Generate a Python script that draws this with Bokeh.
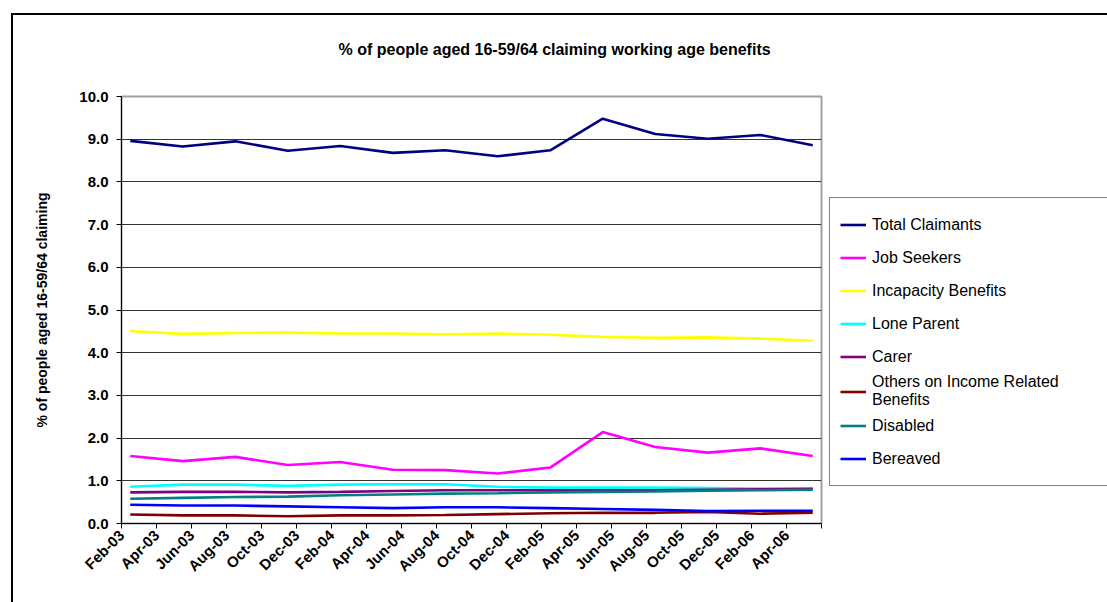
import math
from datetime import datetime
from bokeh.plotting import figure
from bokeh.models import (FixedTicker, PrintfTickFormatter, Legend, LegendItem,
                          Title, Range1d)
from bokeh.embed import file_html
from bokeh.resources import INLINE

# ---- data (quarterly observations) ----
dates = ["Feb-03", "May-03", "Aug-03", "Nov-03", "Feb-04", "May-04", "Aug-04",
         "Nov-04", "Feb-05", "May-05", "Aug-05", "Nov-05", "Feb-06", "May-06"]
tick_labels = ["Feb-03", "Apr-03", "Jun-03", "Aug-03", "Oct-03", "Dec-03",
               "Feb-04", "Apr-04", "Jun-04", "Aug-04", "Oct-04", "Dec-04",
               "Feb-05", "Apr-05", "Jun-05", "Aug-05", "Oct-05", "Dec-05",
               "Feb-06", "Apr-06"]
axis_end = "Jun-06"

total_claimants = [8.96, 8.83, 8.95, 8.73, 8.84, 8.68, 8.74, 8.60, 8.74, 9.48, 9.12, 9.01, 9.10, 8.86]
job_seekers = [1.58, 1.46, 1.56, 1.37, 1.44, 1.26, 1.25, 1.17, 1.31, 2.14, 1.79, 1.66, 1.76, 1.58]
incapacity = [4.51, 4.44, 4.46, 4.47, 4.45, 4.45, 4.43, 4.45, 4.42, 4.37, 4.35, 4.36, 4.33, 4.28]
lone_parent = [0.86, 0.91, 0.91, 0.88, 0.91, 0.92, 0.92, 0.86, 0.84, 0.84, 0.84, 0.83, 0.82, 0.81]
carer = [0.73, 0.74, 0.74, 0.73, 0.74, 0.76, 0.78, 0.78, 0.78, 0.78, 0.78, 0.79, 0.80, 0.81]
others = [0.21, 0.19, 0.19, 0.17, 0.19, 0.19, 0.20, 0.22, 0.24, 0.25, 0.25, 0.27, 0.23, 0.25]
disabled = [0.58, 0.60, 0.62, 0.63, 0.66, 0.68, 0.70, 0.71, 0.73, 0.74, 0.75, 0.77, 0.78, 0.79]
bereaved = [0.44, 0.42, 0.42, 0.40, 0.38, 0.36, 0.38, 0.38, 0.36, 0.34, 0.32, 0.29, 0.30, 0.30]

series_names = ["Total Claimants", "Job Seekers", "Incapacity Benefits", "Lone Parent",
                "Carer", "Others on Income Related\nBenefits", "Disabled", "Bereaved"]
series_values = [total_claimants, job_seekers, incapacity, lone_parent,
                 carer, others, disabled, bereaved]
series_colors = ["#000080", "#FF00FF", "#FFFF00", "#00FFFF",
                 "#800080", "#800000", "#008080", "#0000FF"]

chart_title = "% of people aged 16-59/64 claiming working age benefits"
y_label = "% of people aged 16-59/64 claiming"


def month_index(s):
    d = datetime.strptime(s, "%b-%y")
    return (d.year - 2003) * 12 + d.month - 2


xs = [month_index(d) + 0.5 for d in dates]
x_end = month_index(axis_end)

FONT = "Liberation Sans"

p = figure(frame_width=700, frame_height=427, output_backend="svg", toolbar_location=None,
           x_range=Range1d(0, x_end), y_range=Range1d(0, 10),
           min_border_left=108, min_border_right=286, min_border_top=81,
           min_border_bottom=79, background_fill_color="white",
           border_fill_color="white",
           styles={"margin-left": "11px", "margin-top": "13px",
                   "border-left": "2px solid black", "border-top": "2px solid black"})
p.outline_line_color = "#A0A0A0"
p.outline_line_width = 2

renderers = []
for vals, col in zip(series_values, series_colors):
    r = p.line(xs, vals, line_color=col, line_width=2.6)
    renderers.append(r)

# x axis
ticks = [month_index(t) for t in tick_labels] + [x_end]
overrides = {month_index(t): t for t in tick_labels}
overrides[x_end] = ""
p.xaxis.ticker = FixedTicker(ticks=ticks)
p.xaxis.major_label_overrides = overrides
p.xaxis.major_label_orientation = math.pi / 4
p.xaxis.major_label_text_font = FONT
p.xaxis.major_label_text_font_style = "bold"
p.xaxis.major_label_text_font_size = "15px"
p.xaxis.major_label_text_color = "black"
p.xaxis.major_tick_in = 0
p.xaxis.major_tick_out = 5
p.xaxis.minor_tick_line_color = None
p.xaxis.axis_line_color = "black"
p.xaxis.major_tick_line_color = "black"
p.xaxis.major_label_standoff = 4

# y axis
p.yaxis.ticker = FixedTicker(ticks=list(range(0, 11)))
p.yaxis.formatter = PrintfTickFormatter(format="%.1f")
p.yaxis.major_label_text_font = FONT
p.yaxis.major_label_text_font_style = "bold"
p.yaxis.major_label_text_font_size = "15px"
p.yaxis.major_label_text_color = "black"
p.yaxis.major_tick_in = 0
p.yaxis.major_tick_out = 5
p.yaxis.minor_tick_line_color = None
p.yaxis.axis_line_color = "black"
p.yaxis.major_tick_line_color = "black"
p.yaxis.major_label_standoff = 8
p.yaxis.axis_label = y_label
p.yaxis.axis_label_text_font = FONT
p.yaxis.axis_label_text_font_style = "bold"
p.yaxis.axis_label_text_font_size = "14px"
p.yaxis.axis_label_text_color = "black"
p.yaxis.axis_label_standoff = 26

p.xgrid.grid_line_color = None
p.ygrid.ticker = FixedTicker(ticks=list(range(0, 11)))
p.ygrid.grid_line_color = "#333333"
p.ygrid.grid_line_width = 1

# title (spacer first, so the real title sits further from the frame)
spacer = Title(text=" ", text_font_size="10px", standoff=20)
p.add_layout(spacer, "above")
main_title = Title(text=chart_title, align="left", offset=217,
                   vertical_align="middle", standoff=10,
                   text_font=FONT, text_font_style="bold",
                   text_font_size="16px", text_color="black")
p.add_layout(main_title, "above")

# legend in the right-hand panel
items = [LegendItem(label=n, renderers=[r]) for n, r in zip(series_names, renderers)]
legend = Legend(items=items, location=(8, 37), orientation="vertical",
                border_line_color="black", border_line_width=1,
                background_fill_color="white", background_fill_alpha=1,
                label_text_font=FONT, label_text_font_size="16px",
                label_text_color="black", label_text_line_height=1.05,
                glyph_width=26, glyph_height=33, label_height=33,
                label_width=225,
                label_standoff=6, spacing=0, padding=10, margin=0)
p.add_layout(legend, "right")

open("out.html", "w").write(file_html(p, INLINE))
